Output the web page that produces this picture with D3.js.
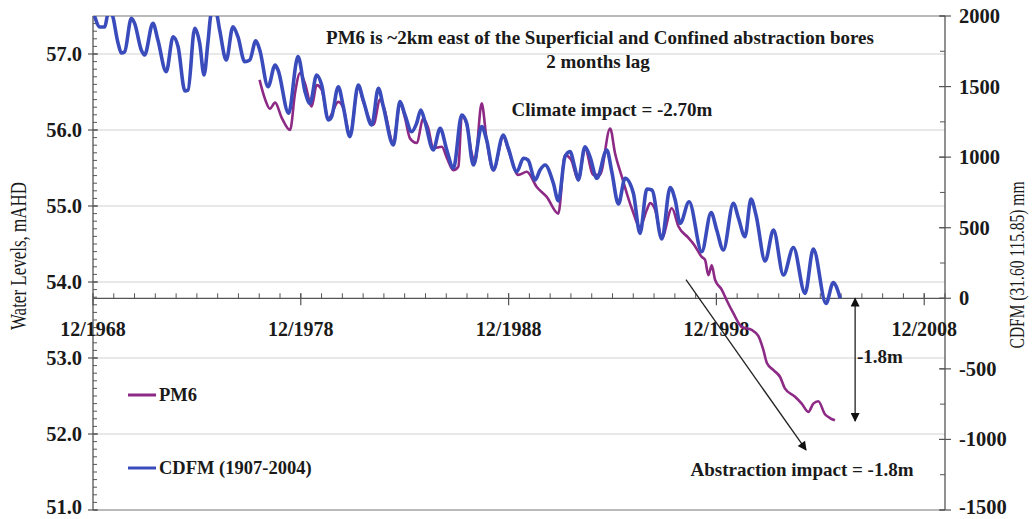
<!DOCTYPE html>
<html><head><meta charset="utf-8">
<script src="https://cdn.jsdelivr.net/npm/d3@7"></script>
<style>
body{margin:0;background:#fff}
svg{display:block}
text{font-family:"Liberation Serif","Times New Roman",serif;fill:#1a1a1a}
</style>
</head><body>
<svg id="c" width="1032" height="519"></svg>
<script>
// ---- data (decimal years) ----
const cdfmYears = [1968.97,1969.25,1969.48,1969.64,1969.80,1970.12,1970.28,1970.44,1970.76,1970.92,1971.24,1971.40,1971.80,1972.04,1972.44,1972.77,1973.01,1973.34,1973.49,1973.81,1974.05,1974.26,1974.45,1974.61,1974.85,1975.01,1975.33,1975.65,1975.89,1976.22,1976.46,1976.75,1976.94,1977.34,1977.68,1977.82,1978.33,1978.72,1978.78,1979.12,1979.36,1979.68,1979.92,1980.24,1980.40,1980.72,1980.96,1981.28,1981.68,1981.92,1982.33,1982.65,1982.89,1983.37,1983.69,1983.93,1984.25,1984.49,1984.69,1984.89,1985.29,1985.62,1985.94,1986.26,1986.66,1986.90,1987.22,1987.62,1987.86,1988.18,1988.66,1988.90,1989.31,1989.63,1989.85,1990.19,1990.43,1990.67,1991.07,1991.31,1991.63,1991.87,1992.11,1992.27,1992.59,1992.83,1993.16,1993.64,1993.88,1994.20,1994.52,1994.92,1995.24,1995.57,1995.81,1996.29,1996.69,1996.93,1997.17,1997.60,1998.21,1998.66,1998.93,1999.25,1999.73,1999.97,2000.29,2000.58,2000.82,2001.26,2001.66,2002.14,2002.62,2003.18,2003.58,2004.19,2004.54,2004.67,2004.87];
const cdfmValues = [2010,1922,1922,2015,2015,1809,1738,1747,1984,1948,1759,1724,1948,1830,1605,1853,1782,1469,1476,1913,1807,1582,1818,2015,2015,1901,1688,1924,1853,1676,1688,1825,1759,1499,1653,1617,1311,1688,1712,1464,1381,1582,1511,1263,1287,1499,1357,1145,1511,1405,1228,1488,1357,1086,1393,1299,1180,1240,1334,1251,1051,1204,1051,921,1299,1240,944,1216,1121,909,1157,1063,897,992,980,838,909,944,815,690,1003,1039,921,838,1074,1003,850,1051,897,668,850,744,460,774,767,420,785,696,531,684,330,608,484,342,673,572,436,703,590,264,484,165,360,35,349,-36,112,87,0];

const pm6Years = [1976.93,1977.19,1977.43,1977.68,1978.00,1978.40,1978.64,1978.88,1979.12,1979.44,1979.68,1979.92,1980.24,1980.72,1980.96,1981.28,1981.68,1981.92,1982.41,1982.73,1982.92,1983.37,1983.69,1983.93,1984.17,1984.49,1984.81,1985.04,1985.29,1985.70,1985.95,1986.26,1986.50,1986.66,1986.90,1987.14,1987.30,1987.62,1987.86,1988.18,1988.66,1988.90,1989.38,1989.79,1990.27,1990.75,1991.31,1991.63,1991.92,1992.27,1992.59,1992.99,1993.31,1993.80,1994.04,1994.36,1994.84,1995.24,1995.57,1995.73,1995.97,1996.29,1996.77,1997.09,1997.57,1997.84,1998.21,1998.37,1998.53,1998.69,1998.85,1999.17,1999.41,1999.73,2000.13,2000.61,2000.93,2001.17,2001.35,2001.66,2001.98,2002.21,2002.70,2003.02,2003.34,2003.58,2003.82,2004.14,2004.38,2004.62];
const pm6Values = [56.66,56.41,56.28,56.36,56.16,56.00,56.49,56.75,56.61,56.31,56.59,56.53,56.15,56.37,56.29,55.93,56.57,56.37,56.07,56.40,56.29,55.83,56.35,56.16,55.89,55.83,56.15,56.03,55.76,55.78,55.63,55.47,55.52,56.18,56.07,55.69,55.58,56.35,55.87,55.47,55.91,55.74,55.41,55.45,55.25,55.12,54.90,55.67,55.61,55.34,55.76,55.41,55.41,56.02,55.69,55.39,54.97,54.73,54.95,55.04,54.95,54.58,54.97,54.73,54.58,54.49,54.33,54.29,54.09,54.22,54.03,53.90,53.76,53.59,53.41,53.37,53.29,53.11,52.93,52.84,52.75,52.60,52.49,52.40,52.29,52.40,52.43,52.26,52.21,52.18];

const leftTicks = [51,52,53,54,55,56,57];
const rightTicks = [-1500,-1000,-500,0,500,1000,1500,2000];
const xTickYears = [1968,1978,1988,1998,2008];
const xTickLabels = ["12/1968","12/1978","12/1988","12/1998","12/2008"];
const seriesNames = ["PM6","CDFM (1907-2004)"];

// ---- helpers ----
function dec2date(y){const yr=Math.floor(y);const s=new Date(yr,0,1),e=new Date(yr+1,0,1);return new Date(+s+(y-yr)*(e-s));}

const svg = d3.select("#c");
const L=93,R=945,T=16,B=510;
const x = d3.scaleTime().domain([new Date(1968,11,1), new Date(2009,11,1)]).range([L,R]);
const yL = d3.scaleLinear().domain([51,57.5]).range([B,T]);
const yR = d3.scaleLinear().domain([-1500,2000]).range([B,T]);
const BLUE="#3a4cbc", PURPLE="#8c2a86", AX="#555";
const TICKFS=20.5;

// gridlines
svg.append("g").selectAll("line").data(leftTicks.filter(d=>d>51)).join("line")
  .attr("x1",L).attr("x2",R).attr("y1",d=>yL(d)).attr("y2",d=>yL(d))
  .attr("stroke","#d2d2d2").attr("stroke-width",1.2);

// frame top & bottom
svg.append("line").attr("x1",L).attr("x2",R).attr("y1",T).attr("y2",T).attr("stroke","#777").attr("stroke-width",1.2);
svg.append("line").attr("x1",L).attr("x2",R).attr("y1",B).attr("y2",B).attr("stroke","#777").attr("stroke-width",1.2);

// left axis
const gl = svg.append("g").attr("transform",`translate(${L},0)`);
gl.append("line").attr("y1",T).attr("y2",B).attr("stroke",AX).attr("stroke-width",1.3);
gl.selectAll(".mn").data(d3.range(510,575,1).map(d=>d/10)).join("line")
  .attr("x1",0).attr("x2",4).attr("y1",d=>yL(d)).attr("y2",d=>yL(d)).attr("stroke",AX);
gl.selectAll(".mj").data(leftTicks).join("line")
  .attr("x1",-5).attr("x2",5).attr("y1",d=>yL(d)).attr("y2",d=>yL(d)).attr("stroke",AX).attr("stroke-width",1.2);
gl.selectAll("text").data(leftTicks).join("text")
  .attr("x",-11).attr("y",d=>Math.min(yL(d)+7, 514)).attr("text-anchor","end")
  .attr("font-size",TICKFS).attr("font-weight","bold").text(d=>d.toFixed(1));

// right axis
const gr = svg.append("g").attr("transform",`translate(${R},0)`);
gr.append("line").attr("y1",T).attr("y2",B).attr("stroke",AX).attr("stroke-width",1.3);
gr.selectAll(".mn").data(d3.range(-1500,2001,250)).join("line")
  .attr("x1",-5).attr("x2",0).attr("y1",d=>yR(d)).attr("y2",d=>yR(d)).attr("stroke",AX);
gr.selectAll(".mj").data(rightTicks).join("line")
  .attr("x1",-6).attr("x2",6).attr("y1",d=>yR(d)).attr("y2",d=>yR(d)).attr("stroke",AX).attr("stroke-width",1.2);
gr.selectAll("text").data(rightTicks).join("text")
  .attr("x",14).attr("y",d=>Math.min(yR(d)+7, 514)).attr("text-anchor","start")
  .attr("font-size",TICKFS).attr("font-weight","bold").text(d=>d);

// x axis at right-axis zero
const y0 = yR(0);
const gx = svg.append("g");
gx.append("line").attr("x1",L).attr("x2",R).attr("y1",y0).attr("y2",y0).attr("stroke",AX).attr("stroke-width",1.3);
gx.selectAll(".mn").data(d3.range(1969,2010)).join("line")
  .attr("x1",d=>x(new Date(d,11,1))).attr("x2",d=>x(new Date(d,11,1)))
  .attr("y1",y0-5).attr("y2",y0).attr("stroke",AX);
gx.selectAll(".mj").data(xTickYears).join("line")
  .attr("x1",d=>x(new Date(d,11,1))).attr("x2",d=>x(new Date(d,11,1)))
  .attr("y1",y0-5).attr("y2",y0+7).attr("stroke",AX).attr("stroke-width",1.2);
gx.selectAll("text").data(xTickYears).join("text")
  .attr("x",d=>x(new Date(d,11,1))).attr("y",y0+38).attr("text-anchor","middle")
  .attr("font-size",20).attr("font-weight","bold").text((d,i)=>xTickLabels[i]);

// clip
svg.append("clipPath").attr("id","clip").append("rect").attr("x",L).attr("y",T).attr("width",R-L).attr("height",B-T);
const plot = svg.append("g").attr("clip-path","url(#clip)");

const lineR = d3.line().x(d=>x(dec2date(d[0]))).y(d=>yR(d[1])).curve(d3.curveMonotoneX);
const lineL = d3.line().x(d=>x(dec2date(d[0]))).y(d=>yL(d[1])).curve(d3.curveMonotoneX);

plot.append("path").datum(pm6Years.map((d,i)=>[d,pm6Values[i]]))
  .attr("d",lineL).attr("fill","none").attr("stroke",PURPLE).attr("stroke-width",2.6).attr("stroke-linejoin","round");
plot.append("path").datum(cdfmYears.map((d,i)=>[d,cdfmValues[i]]))
  .attr("d",lineR).attr("fill","none").attr("stroke",BLUE).attr("stroke-width",3.6).attr("stroke-linejoin","round");

// markers
const defs = svg.append("defs");
defs.append("marker").attr("id","ah").attr("viewBox","0 0 10 10").attr("refX",9).attr("refY",5)
  .attr("markerWidth",11).attr("markerHeight",9).attr("markerUnits","userSpaceOnUse").attr("orient","auto-start-reverse")
  .append("path").attr("d","M0,0L10,5L0,10z").attr("fill","#111");

// diagonal arrow (abstraction impact)
svg.append("line")
  .attr("x1",x(dec2date(1997.45))).attr("y1",yL(54.03))
  .attr("x2",x(dec2date(2003.23))).attr("y2",yL(51.79))
  .attr("stroke","#222").attr("stroke-width",1.3).attr("marker-end","url(#ah)");
// vertical double arrow
svg.append("line")
  .attr("x1",x(dec2date(2005.59))).attr("x2",x(dec2date(2005.59)))
  .attr("y1",yR(0)).attr("y2",yL(52.17))
  .attr("stroke","#222").attr("stroke-width",1.3)
  .attr("marker-start","url(#ah)").attr("marker-end","url(#ah)");

// annotations
function txt(s,px,py,opts={}){
  return svg.append("text").attr("x",px).attr("y",py).attr("font-size",opts.size||19)
   .attr("font-weight",opts.w||"bold").attr("text-anchor",opts.a||"middle").text(s);
}
txt("PM6 is ~2km east of the Superficial and Confined abstraction bores",600,44);
txt("2 months lag",598,68);
txt("Climate impact = -2.70m",612,116);
txt("-1.8m",857,363,{a:"start"});
txt("Abstraction impact = -1.8m",802,476);

// legend
const legY=[395,468], legC=[PURPLE,BLUE];
seriesNames.forEach((n,i)=>{
  svg.append("line").attr("x1",128).attr("x2",156).attr("y1",legY[i]).attr("y2",legY[i]).attr("stroke",legC[i]).attr("stroke-width",3);
  txt(n,159,legY[i]+6,{a:"start",size:18.5});
});

// axis titles (glyphs stretched across the reading direction, like the reference)
svg.append("text").attr("transform","translate(26,256) rotate(-90) scale(1,1.3)").attr("text-anchor","middle")
  .attr("font-size",17).text("Water Levels, mAHD");
svg.append("text").attr("transform","translate(1024,265) rotate(-90) scale(1,1.3)").attr("text-anchor","middle")
  .attr("font-size",15.5).text("CDFM (31.60 115.85) mm");
</script>
</body></html>
